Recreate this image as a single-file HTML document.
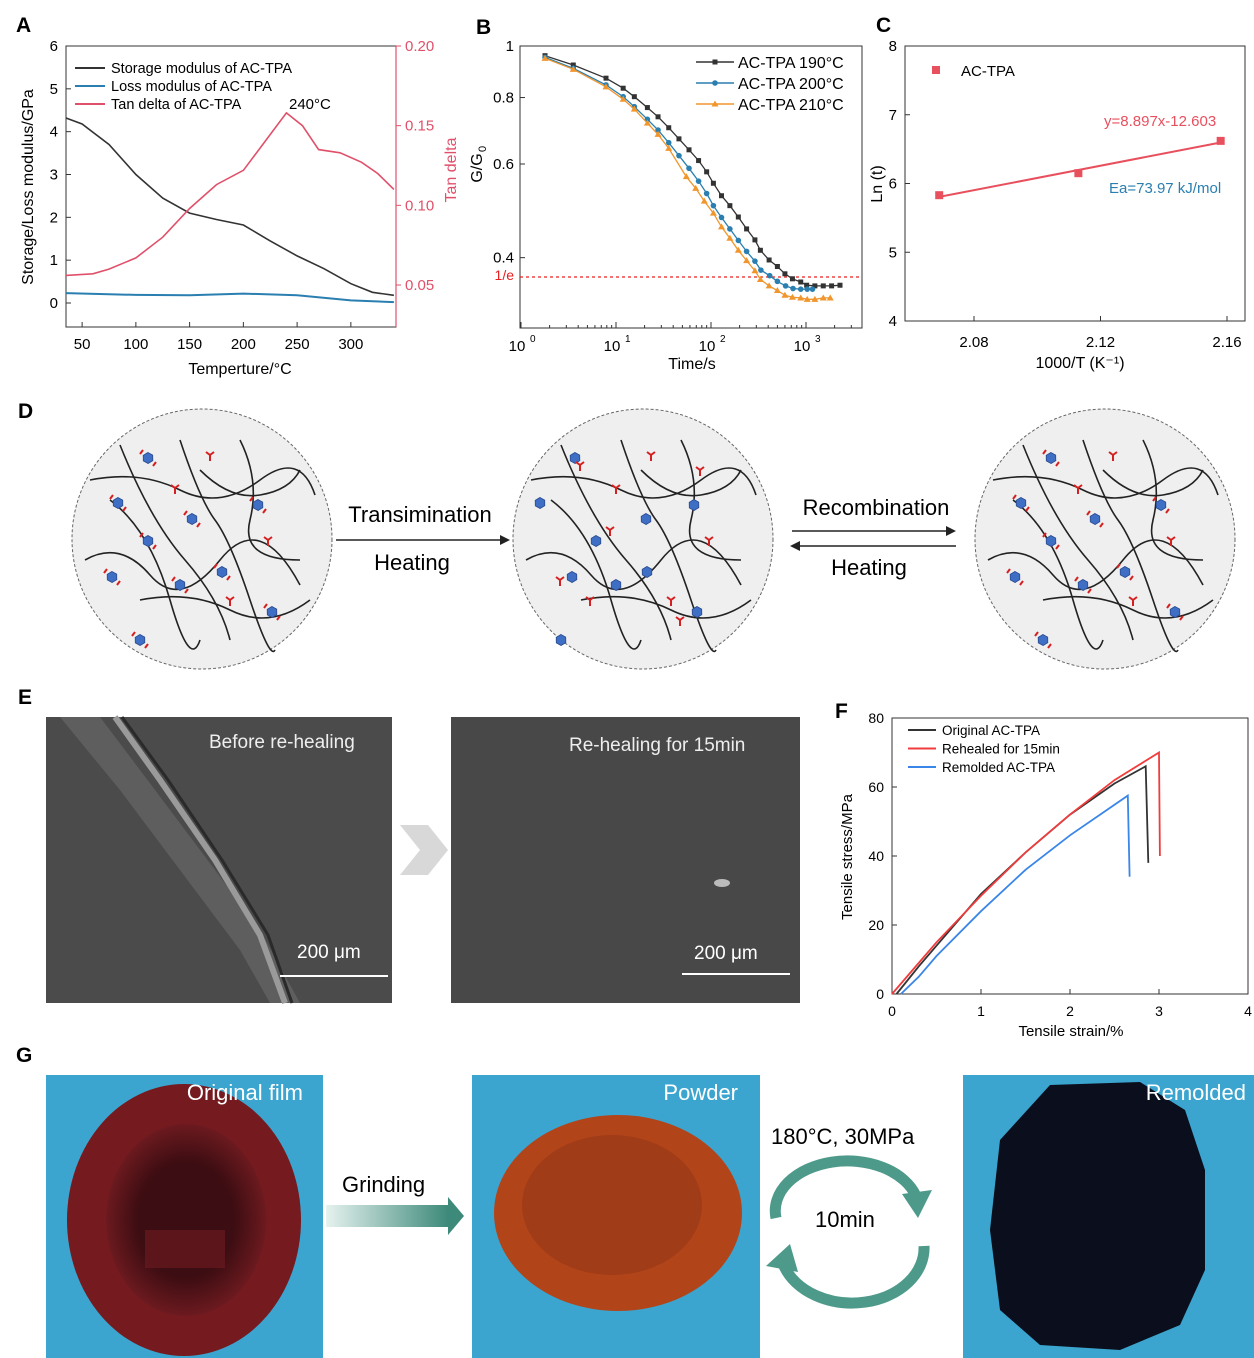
<!DOCTYPE html>
<html><head><meta charset="utf-8"><style>
html,body{margin:0;padding:0;background:#fff}
svg{display:block;font-family:"Liberation Sans",Arial,sans-serif}
</style></head><body>
<svg id="fig" width="1254" height="1358" viewBox="0 0 1254 1358" xmlns="http://www.w3.org/2000/svg">
<defs>
<linearGradient id="gArrow" x1="0" x2="1"><stop offset="0" stop-color="#e6f2ef"/><stop offset="1" stop-color="#3d8a7a"/></linearGradient>
<radialGradient id="gFilm" cx="0.5" cy="0.5" r="0.5"><stop offset="0.6" stop-color="#3c0d12"/><stop offset="1" stop-color="#6c1a1f"/></radialGradient>
</defs>
<g font-weight="bold" font-size="21">
<text x="16" y="32">A</text>
<text x="476" y="34">B</text>
<text x="876" y="32">C</text>
<text x="18" y="418">D</text>
<text x="18" y="704">E</text>
<text x="835" y="718">F</text>
<text x="16" y="1062">G</text>
</g>
<g id="pA"></g>
<g id="pB"></g>
<g id="pC"></g>
<g id="pD"></g>
<g id="pE">
<rect x="46" y="717" width="346" height="286" fill="#4b4b4b"/>
<path d="M60 717 L120 790 L180 870 L240 950 L270 1003 L300 1003 L260 930 L200 850 L140 770 L100 717Z" fill="#5e5e5e"/>
<path d="M115 717 L160 780 L215 860 L260 935 L285 1003" stroke="#9a9a9a" stroke-width="6" fill="none"/>
<path d="M122 717 L168 780 L222 860 L268 935 L292 1003" stroke="#2a2a2a" stroke-width="3" fill="none"/>
<text x="209" y="748" fill="#eee" font-size="19">Before re-healing</text>
<text x="297" y="958" fill="#fff" font-size="19">200 μm</text>
<line x1="280" y1="976" x2="388" y2="976" stroke="#fff" stroke-width="2"/>
<path d="M400 825 L428 825 L448 850 L428 875 L400 875 L420 850Z" fill="#d8d8d8"/>
<rect x="451" y="717" width="349" height="286" fill="#484848"/>
<ellipse cx="722" cy="883" rx="8" ry="4" fill="#bbb"/>
<text x="569" y="751" fill="#eee" font-size="19">Re-healing for 15min</text>
<text x="694" y="959" fill="#fff" font-size="19">200 μm</text>
<line x1="682" y1="974" x2="790" y2="974" stroke="#fff" stroke-width="2"/>
</g>
<g id="pF"></g>
<g id="pG">
<rect x="46" y="1075" width="277" height="283" fill="#3ba5cf"/>
<ellipse cx="184" cy="1220" rx="117" ry="136" fill="#751a1f"/>
<ellipse cx="186" cy="1220" rx="80" ry="96" fill="url(#gFilm)"/>
<rect x="145" y="1230" width="80" height="38" fill="#6a1a20" opacity="0.7"/>
<text x="303" y="1100" text-anchor="end" fill="#fff" font-size="22">Original film</text>
<rect x="326" y="1205" width="122" height="22" fill="url(#gArrow)"/>
<path d="M448 1197 L464 1216 L448 1235Z" fill="#3d8a7a"/>
<text x="342" y="1192" font-size="22">Grinding</text>
<rect x="472" y="1075" width="288" height="283" fill="#3ba5cf"/>
<ellipse cx="618" cy="1213" rx="124" ry="98" fill="#b2441a"/>
<ellipse cx="612" cy="1205" rx="90" ry="70" fill="#8d3414" opacity="0.5"/>
<text x="738" y="1100" text-anchor="end" fill="#fff" font-size="22">Powder</text>
<text x="771" y="1144" font-size="22">180°C, 30MPa</text>
<text x="815" y="1227" font-size="22">10min</text>
<path d="M776 1218 A72 50 0 0 1 916 1196" stroke="#4e9a8a" stroke-width="11" fill="none"/>
<path d="M902 1194 L932 1190 L918 1218Z" fill="#4e9a8a"/>
<path d="M924 1246 A72 55 0 0 1 784 1266" stroke="#4e9a8a" stroke-width="11" fill="none"/>
<path d="M766 1266 L790 1244 L798 1272Z" fill="#4e9a8a"/>
<rect x="963" y="1075" width="291" height="283" fill="#3ba5cf"/>
<path d="M1050 1085 L1140 1082 L1185 1110 L1205 1170 L1205 1270 L1180 1325 L1120 1350 L1040 1345 L1000 1310 L990 1230 L1000 1140Z" fill="#0b0f1d"/>
<text x="1246" y="1100" text-anchor="end" fill="#fff" font-size="22">Remolded</text>
</g>
</svg>
<script>
// ---------- Panel A data ----------
const aStorageT=[35,50,75,100,125,150,175,200,225,250,275,300,320,340];
const aStorageV=[4.32,4.18,3.7,3.0,2.45,2.1,1.95,1.82,1.45,1.1,0.8,0.45,0.25,0.18];
const aLossT=[35,100,150,200,250,300,340];
const aLossV=[0.23,0.19,0.18,0.22,0.18,0.06,0.02];
const aTanT=[35,60,75,100,125,150,175,200,220,240,255,270,290,310,325,340];
const aTanV=[0.056,0.057,0.06,0.067,0.08,0.098,0.113,0.122,0.14,0.158,0.15,0.135,0.133,0.127,0.12,0.11];
const aXTicks=[50,100,150,200,250,300];
const aYTicks=[0,1,2,3,4,5,6];
const aY2Ticks=[0.05,0.10,0.15,0.20];
// ---------- Panel B data ----------
const bTimes190=[1.79,3.55,7.85,11.9,15.6,21.4,27.7,35.9,46,58.7,74,90,106,129,158,194,237,290,331,409,500,600,720,880,1016,1240,1520,1860,2280];
const bVals190=[0.959,0.921,0.87,0.833,0.803,0.766,0.736,0.702,0.669,0.638,0.609,0.58,0.552,0.523,0.501,0.477,0.453,0.432,0.413,0.396,0.385,0.373,0.365,0.36,0.355,0.354,0.354,0.354,0.355];
const bTimes200=[1.79,3.55,7.85,11.9,15.6,21.4,27.7,35.9,46,58.7,74,90,106,129,158,194,237,290,335,415,500,610,730,880,1030,1170];
const bVals200=[0.952,0.908,0.845,0.803,0.769,0.728,0.695,0.658,0.622,0.589,0.557,0.528,0.501,0.476,0.453,0.431,0.411,0.394,0.379,0.37,0.361,0.354,0.35,0.349,0.349,0.349];
const bTimes210=[1.79,3.55,7.85,11.9,15.6,21.4,27.7,35.9,55,69,85,106,129,158,194,237,290,331,409,500,600,720,880,1030,1240,1520,1800];
const bVals210=[0.948,0.904,0.838,0.794,0.761,0.716,0.682,0.642,0.568,0.54,0.511,0.485,0.457,0.435,0.413,0.395,0.378,0.364,0.354,0.347,0.34,0.337,0.336,0.334,0.334,0.336,0.336];
const bYTicks=[0.4,0.6,0.8,1];
const bYTickLabels=["0.4","0.6","0.8","1"];
const bXExp=[0,1,2,3];
// ---------- Panel C data ----------
const cX=[2.069,2.113,2.158];
const cY=[5.83,6.15,6.62];
const cSlope=8.897, cIntercept=-12.603;
const cXTicks=[2.08,2.12,2.16];
const cYTicks=[4,5,6,7,8];
// ---------- Panel F data ----------
const fOrigX=[0.05,0.3,0.5,1,1.5,2,2.5,2.85,2.88];
const fOrigY=[0,8,14,29,41,52,61,66,38];
const fRehX=[0,0.3,0.5,1,1.5,2,2.5,3,3.01];
const fRehY=[0,9,15,28.5,41,52,62,70,40];
const fRemX=[0.1,0.3,0.5,1,1.5,2,2.65,2.67];
const fRemY=[0,5,11,24,36,46,57.5,34];
const fXTicks=[0,1,2,3,4];
const fYTicks=[0,20,40,60,80];

const NS='http://www.w3.org/2000/svg';
function mk(parent,tag,attrs,text){const e=document.createElementNS(NS,tag);for(const k in attrs)e.setAttribute(k,attrs[k]);if(text!==undefined)e.textContent=text;parent.appendChild(e);return e;}
function lin(d0,d1,r0,r1){return v=>r0+(v-d0)/(d1-d0)*(r1-r0);}
function pathOf(xs,ys,fx,fy){return xs.map((x,i)=>(i?'L':'M')+fx(x).toFixed(1)+' '+fy(ys[i]).toFixed(1)).join(' ');}

// ===== Panel A =====
(function(){
const g=document.getElementById('pA');
const L=66,R=396,T=46,B=327;
const x=lin(35,342,L,R), y=lin(0,6,303,46), y2=lin(0.05,0.20,285,46);
let e=mk(g,'rect',{x:L,y:T,width:R-L,height:B-T,fill:'none',stroke:'#333','stroke-width':1});

mk(g,'line',{x1:R,y1:T,x2:R,y2:B,stroke:'#e0506a','stroke-width':1.2});
aXTicks.forEach(t=>{mk(g,'line',{x1:x(t),y1:B,x2:x(t),y2:B-5,stroke:'#333'});
 e=mk(g,'text',{x:x(t),y:B+22,'text-anchor':'middle','font-size':15},t);});
aYTicks.forEach(t=>{mk(g,'line',{x1:L,y1:y(t),x2:L+5,y2:y(t),stroke:'#333'});
 e=mk(g,'text',{x:L-8,y:y(t)+5,'text-anchor':'end','font-size':15},t);});
aY2Ticks.forEach(t=>{mk(g,'line',{x1:R,y1:y2(t),x2:R+5,y2:y2(t),stroke:'#e0506a'});
 e=mk(g,'text',{x:R+9,y:y2(t)+5,'font-size':15,fill:'#e0506a'},t.toFixed(2));});
e=mk(g,'path',{d:pathOf(aLossT,aLossV,x,y),fill:'none',stroke:'#2a7fb0','stroke-width':2});
e=mk(g,'path',{d:pathOf(aStorageT,aStorageV,x,y),fill:'none',stroke:'#333','stroke-width':1.6});
e=mk(g,'path',{d:pathOf(aTanT,aTanV,x,y2),fill:'none',stroke:'#e0506a','stroke-width':1.6});
const leg=[['Storage modulus of AC-TPA','#333'],['Loss modulus of AC-TPA','#2a7fb0'],['Tan delta of AC-TPA','#e0506a']];
leg.forEach((l,i)=>{const yy=68+i*18;mk(g,'line',{x1:75,y1:yy,x2:105,y2:yy,stroke:l[1],'stroke-width':2});
 e=mk(g,'text',{x:111,y:yy+5,'font-size':14.5},l[0]);});
e=mk(g,'text',{x:289,y:109,'font-size':15},'240°C');
e=mk(g,'text',{x:240,y:374,'text-anchor':'middle','font-size':16},'Temperture/°C');
e=mk(g,'text',{x:0,y:0,'text-anchor':'middle','font-size':16,transform:'translate(33,187) rotate(-90)'},'Storage/Loss modulus/GPa');
e=mk(g,'text',{x:0,y:0,'text-anchor':'middle','font-size':16,fill:'#e0506a',transform:'translate(456,170) rotate(-90)'},'Tan delta');
})();

// ===== Panel B =====
(function(){
const g=document.getElementById('pB');
const L=520,R=862,T=46,B=328;
const x=v=>521+Math.log10(v)*95, y=v=>46-Math.log(v)*231;
let e=mk(g,'rect',{x:L,y:T,width:R-L,height:B-T,fill:'none',stroke:'#333'});

bXExp.forEach(p=>{const xx=521+p*95;mk(g,'line',{x1:xx,y1:B,x2:xx,y2:B-6,stroke:'#333'});
 for(let m=2;m<10;m++){const xm=521+(p+Math.log10(m))*95;if(xm<R)mk(g,'line',{x1:xm,y1:B,x2:xm,y2:B-3,stroke:'#333'});}
 e=mk(g,'text',{x:xx-4,y:B+23,'text-anchor':'middle','font-size':15},'10');
 mk(g,'text',{x:xx+9,y:B+14,'font-size':10},p);});
bYTicks.forEach((t,i)=>{mk(g,'line',{x1:L,y1:y(t),x2:L+5,y2:y(t),stroke:'#333'});
 e=mk(g,'text',{x:L-6,y:y(t)+5,'text-anchor':'end','font-size':15},bYTickLabels[i]);});
mk(g,'line',{x1:L,y1:y(1/Math.E),x2:R,y2:y(1/Math.E),stroke:'#e82020','stroke-width':1.3,'stroke-dasharray':'3,3'});
e=mk(g,'text',{x:L-6,y:y(1/Math.E)+3,'text-anchor':'end','font-size':14,fill:'#e82020'},'1/e');
const ser=[[bTimes190,bVals190,'#333','sq','AC-TPA 190°C'],[bTimes200,bVals200,'#2a7fb0','ci','AC-TPA 200°C'],[bTimes210,bVals210,'#f0962c','tr','AC-TPA 210°C']];
function marker(gg,k,cx,cy,c){if(k==='sq')return mk(gg,'rect',{x:cx-2.5,y:cy-2.5,width:5,height:5,fill:c});
 if(k==='ci')return mk(gg,'circle',{cx:cx,cy:cy,r:2.8,fill:c});return mk(gg,'path',{d:`M${cx} ${cy-3.5} L${cx+3.5} ${cy+2.5} L${cx-3.5} ${cy+2.5}Z`,fill:c});}
ser.forEach((s,si)=>{const sg=mk(g,'g',{});
 mk(sg,'path',{d:pathOf(s[0],s[1],x,y),fill:'none',stroke:s[2],'stroke-width':1.3});
 s[0].forEach((t,i)=>{const m=marker(sg,s[3],x(t),y(s[1][i]),s[2]);});
 const ly=62+si*21;mk(g,'line',{x1:696,y1:ly,x2:734,y2:ly,stroke:s[2],'stroke-width':1.5});marker(g,s[3],715,ly,s[2]);
 e=mk(g,'text',{x:738,y:ly+6,'font-size':16},s[4]);});
e=mk(g,'text',{x:692,y:369,'text-anchor':'middle','font-size':16},'Time/s');
e=mk(g,'text',{x:0,y:0,'text-anchor':'middle','font-size':16,transform:'translate(482,168) rotate(-90)'},'G/G');
mk(g,'text',{x:0,y:0,'font-size':11,transform:'translate(486,152) rotate(-90)'},'0');
})();

// ===== Panel C =====
(function(){
const g=document.getElementById('pC');
const L=905,R=1245,T=46,B=321;
const x=lin(2.08,2.16,974,1227), y=lin(4,8,321,46);
let e=mk(g,'rect',{x:L,y:T,width:R-L,height:B-T,fill:'none',stroke:'#333'});

cXTicks.forEach(t=>{mk(g,'line',{x1:x(t),y1:B,x2:x(t),y2:B-5,stroke:'#333'});
 e=mk(g,'text',{x:x(t),y:B+26,'text-anchor':'middle','font-size':15},t.toFixed(2));});
cYTicks.forEach(t=>{mk(g,'line',{x1:L,y1:y(t),x2:L+5,y2:y(t),stroke:'#333'});
 e=mk(g,'text',{x:L-8,y:y(t)+5,'text-anchor':'end','font-size':15},t);});
const x0=cX[0],x1=cX[cX.length-1];
e=mk(g,'line',{x1:x(x0),y1:y(cSlope*x0+cIntercept),x2:x(x1),y2:y(cSlope*x1+cIntercept),stroke:'#e8505e','stroke-width':2});
cX.forEach((v,i)=>{e=mk(g,'rect',{x:x(v)-4,y:y(cY[i])-4,width:8,height:8,fill:'#e8505e'});});
mk(g,'rect',{x:932,y:66,width:8,height:8,fill:'#e8505e'});
e=mk(g,'text',{x:961,y:76,'font-size':15},'AC-TPA');
e=mk(g,'text',{x:1104,y:126,'font-size':15,fill:'#e8505e'},'y=8.897x-12.603');
e=mk(g,'text',{x:1109,y:193,'font-size':15,fill:'#2a7fb0'},'Ea=73.97 kJ/mol');
e=mk(g,'text',{x:1080,y:368,'text-anchor':'middle','font-size':16},'1000/T  (K⁻¹)');
e=mk(g,'text',{x:0,y:0,'text-anchor':'middle','font-size':16,transform:'translate(882,184) rotate(-90)'},'Ln (t)');
})();

// ===== Panel D =====
(function(){
const g=document.getElementById('pD');
const cs=[[202,539],[643,539],[1105,539]];
function hex(gg,cx,cy,red){mk(gg,'polygon',{points:[0,1,2,3,4,5].map(k=>{const a=k*Math.PI/3+0.5;return (cx+5.5*Math.cos(a)).toFixed(1)+','+(cy+5.5*Math.sin(a)).toFixed(1);}).join(' '),fill:'#3f6fc4',stroke:'#2a4a90','stroke-width':0.8});
 if(red){mk(gg,'path',{d:`M${cx-8} ${cy-4} L${cx-5} ${cy-8} M${cx+8} ${cy+4} L${cx+5} ${cy+8}`,stroke:'#d42020','stroke-width':2,fill:'none'});}}
function yk(gg,cx,cy){mk(gg,'path',{d:`M${cx} ${cy} L${cx} ${cy+6} M${cx} ${cy} L${cx-4} ${cy-3} M${cx} ${cy} L${cx+4} ${cy-3}`,stroke:'#d42020','stroke-width':2,fill:'none'});}
cs.forEach((c,ci)=>{const cg=mk(g,'g',{});
 mk(cg,'circle',{cx:c[0],cy:c[1],r:130,fill:'#efefef',stroke:'#666','stroke-dasharray':'3,2'});
 const dx=c[0]-202,dy=c[1]-539;
 const paths=['M90 480 Q140 470 180 490 T260 480 T315 495','M85 560 Q120 540 150 575 T220 560 T300 585','M120 445 Q150 520 185 560 T230 640','M180 440 Q200 500 215 520 T250 600 T275 650','M110 500 Q150 530 170 600 T200 640','M240 440 Q260 480 250 520 T300 560','M140 600 Q190 590 230 610 T310 600','M200 470 Q230 500 260 495 T300 470'];
 paths.forEach(p=>mk(cg,'path',{d:p,transform:`translate(${dx},${dy})`,fill:'none',stroke:'#222','stroke-width':1.6}));
 const hx=[[148,458],[118,503],[192,519],[148,541],[258,505],[112,577],[180,585],[222,572],[272,612],[140,640]];
 hx.forEach(h=>hex(cg,h[0]+dx+(ci==1?((h[1]*7)%40-20):0),h[1]+dy,ci!==1));
 const yks=[[210,455],[175,488],[268,540],[230,600]];
 yks.forEach(h=>yk(cg,h[0]+dx,h[1]+dy));
 if(ci===1){[[580,465],[610,530],[700,470],[680,620],[590,600],[560,580]].forEach(h=>yk(cg,h[0],h[1]));}
});
mk(g,'line',{x1:336,y1:540,x2:504,y2:540,stroke:'#222','stroke-width':1.5});mk(g,'path',{d:'M510 540 L500 535 L500 545Z',fill:'#222'});
let e=mk(g,'text',{x:420,y:522,'text-anchor':'middle','font-size':22},'Transimination');
e=mk(g,'text',{x:412,y:570,'text-anchor':'middle','font-size':22},'Heating');
mk(g,'line',{x1:792,y1:531,x2:950,y2:531,stroke:'#222','stroke-width':1.5});mk(g,'path',{d:'M956 531 L946 526 L946 536Z',fill:'#222'});
mk(g,'line',{x1:798,y1:546,x2:956,y2:546,stroke:'#222','stroke-width':1.5});mk(g,'path',{d:'M790 546 L800 541 L800 551Z',fill:'#222'});
e=mk(g,'text',{x:876,y:515,'text-anchor':'middle','font-size':22},'Recombination');
e=mk(g,'text',{x:869,y:575,'text-anchor':'middle','font-size':22},'Heating');
})();

// ===== Panel F =====
(function(){
const g=document.getElementById('pF');
const L=892,R=1248,T=718,B=994;
const x=lin(0,4,L,R), y=lin(0,80,B,T);
let e=mk(g,'rect',{x:L,y:T,width:R-L,height:B-T,fill:'none',stroke:'#333'});

fXTicks.forEach(t=>{mk(g,'line',{x1:x(t),y1:B,x2:x(t),y2:B-5,stroke:'#333'});
 e=mk(g,'text',{x:x(t),y:B+22,'text-anchor':'middle','font-size':14},t);});
fYTicks.forEach(t=>{mk(g,'line',{x1:L,y1:y(t),x2:L+5,y2:y(t),stroke:'#333'});
 e=mk(g,'text',{x:L-8,y:y(t)+5,'text-anchor':'end','font-size':14},t);});
const ser=[[fRemX,fRemY,'#3a86e8','Remolded AC-TPA'],[fOrigX,fOrigY,'#333','Original AC-TPA'],[fRehX,fRehY,'#f03c3c','Rehealed for 15min']];
ser.forEach(s=>{e=mk(g,'path',{d:pathOf(s[0],s[1],x,y),fill:'none',stroke:s[2],'stroke-width':1.8});});
[['Original AC-TPA','#333'],['Rehealed for 15min','#f03c3c'],['Remolded AC-TPA','#3a86e8']].forEach((l,i)=>{const yy=730+i*18.5;
 mk(g,'line',{x1:908,y1:yy,x2:936,y2:yy,stroke:l[1],'stroke-width':2});
 e=mk(g,'text',{x:942,y:yy+5,'font-size':13.5},l[0]);});
e=mk(g,'text',{x:1071,y:1036,'text-anchor':'middle','font-size':15},'Tensile strain/%');
e=mk(g,'text',{x:0,y:0,'text-anchor':'middle','font-size':15,transform:'translate(852,857) rotate(-90)'},'Tensile stress/MPa');
})();
</script>
</body></html>
